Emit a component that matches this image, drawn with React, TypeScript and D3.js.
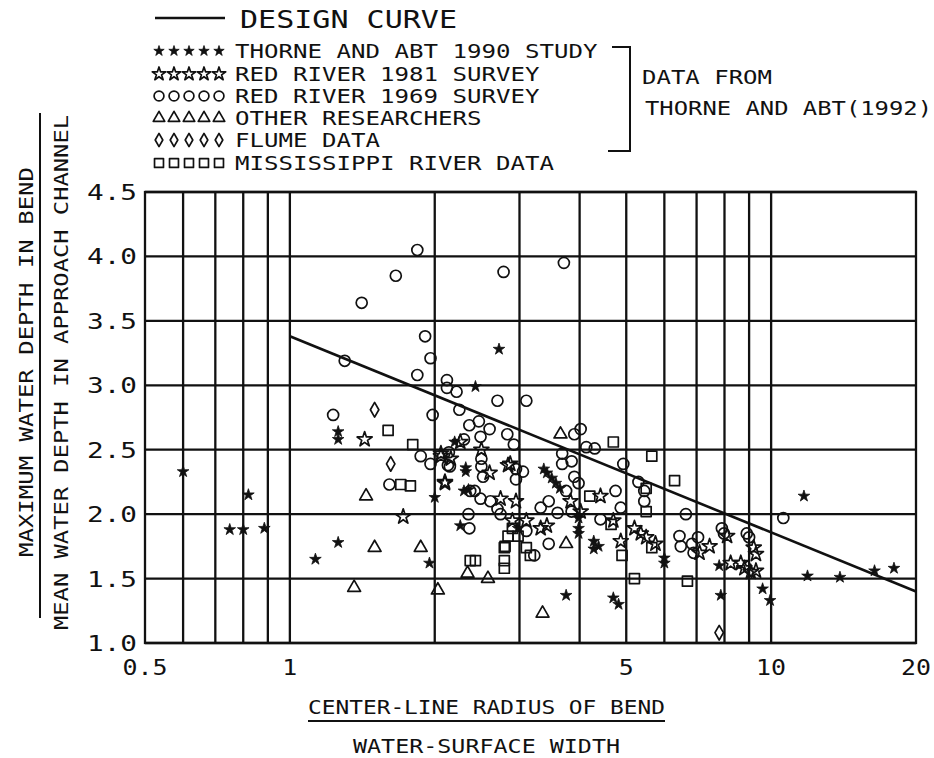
import React from 'react';
import * as d3 from 'd3';

// ---------- data ----------
const xDomain: [number, number] = [0.5, 20];
const yDomain: [number, number] = [1.0, 4.5];
const xGridValues = [0.6, 0.7, 0.8, 0.9, 1, 2, 3, 4, 5, 6, 7, 8, 9, 10];
const yTickValues = [1.0, 1.5, 2.0, 2.5, 3.0, 3.5, 4.0, 4.5];
const xTickValues = [0.5, 1, 5, 10, 20];
const designCurveX = [1, 20];
const designCurveY = [3.38, 1.4];

const thorneAbt1990: [number, number][] = [
  [0.6, 2.33], [0.82, 2.15], [0.75, 1.88], [0.8, 1.88], [0.885, 1.89], [1.13, 1.65], [1.26, 1.78],
  [1.26, 2.64], [1.26, 2.58], [1.95, 1.62], [2.0, 2.13], [2.72, 3.28], [2.43, 2.99], [3.75, 1.37],
  [4.7, 1.35], [4.82, 1.3], [11.7, 2.14], [11.9, 1.52], [13.9, 1.51], [16.4, 1.56], [18.0, 1.58],
  [9.6, 1.42], [9.95, 1.33], [7.86, 1.37], [7.8, 1.6], [6.0, 1.66], [6.0, 1.62],
  [2.32, 2.36], [2.32, 2.33], [2.3, 2.18], [2.26, 1.91], [2.2, 2.56], [2.35, 2.19], [3.37, 2.35],
  [3.42, 2.32], [3.5, 2.28], [3.57, 2.24], [3.64, 2.2], [3.98, 1.97], [3.98, 1.89], [3.98, 1.85],
  [4.28, 1.79], [4.38, 1.75], [4.28, 1.73], [2.98, 1.89],
];

const redRiver1981: [number, number][] = [
  [1.43, 2.58], [1.72, 1.98], [2.06, 2.47], [2.1, 2.24], [2.6, 2.32], [2.87, 2.39], [2.74, 2.12],
  [2.95, 2.1], [2.26, 2.56], [2.5, 2.5], [2.06, 2.45], [2.16, 2.43], [2.1, 2.25], [2.84, 2.38],
  [2.9, 1.95], [3.32, 1.89], [3.42, 1.91], [4.42, 2.14], [5.2, 1.89], [5.36, 1.85], [5.5, 1.82],
  [5.75, 1.77], [7.45, 1.75], [7.1, 1.7], [8.1, 1.83], [9.2, 1.74], [9.3, 1.69], [8.24, 1.62],
  [8.65, 1.62], [8.8, 1.58], [9.07, 1.55], [9.3, 1.56], [4.02, 2.02], [3.83, 2.1], [4.7, 1.95],
  [4.87, 1.79], [3.1, 1.95],
];

const redRiver1969: [number, number][] = [
  [1.66, 3.85], [1.41, 3.64], [1.3, 3.19], [1.23, 2.77], [1.84, 4.05], [2.78, 3.88], [3.71, 3.95],
  [1.91, 3.38], [1.96, 3.21], [1.84, 3.08], [2.12, 3.04], [2.12, 2.98], [2.22, 2.95], [2.7, 2.88],
  [3.1, 2.88], [1.98, 2.77], [2.25, 2.81], [2.36, 2.69], [2.47, 2.72], [2.6, 2.66], [2.83, 2.62],
  [2.92, 2.54], [2.3, 2.58], [2.49, 2.6], [1.87, 2.45], [1.96, 2.39], [2.15, 2.37], [2.5, 2.43],
  [2.5, 2.37], [2.52, 2.29], [2.95, 2.35], [3.05, 2.33], [2.95, 2.27], [2.37, 2.18], [2.49, 2.12],
  [2.61, 2.1], [2.74, 2.0], [2.35, 2.0], [2.36, 1.89], [3.45, 1.77], [3.22, 1.68], [1.61, 2.23],
  [2.14, 2.48], [2.13, 2.38], [2.42, 2.18], [3.9, 2.62], [4.02, 2.66], [3.68, 2.47], [3.85, 2.41],
  [3.68, 2.39], [3.9, 2.29], [3.98, 2.24], [3.75, 2.18], [4.13, 2.52], [4.3, 2.51], [4.93, 2.39],
  [4.75, 2.18], [4.87, 2.05], [5.3, 2.25], [5.45, 2.1], [5.45, 2.18], [3.32, 2.05], [3.45, 2.1],
  [3.6, 2.01], [3.85, 2.02], [2.7, 2.04], [3.1, 1.87], [4.42, 1.96], [6.65, 2.0], [10.6, 1.97],
  [6.45, 1.83], [6.49, 1.75], [6.85, 1.77], [7.05, 1.82], [6.9, 1.7], [7.9, 1.89], [7.98, 1.85],
  [8.9, 1.85], [9.0, 1.82],
];

const otherResearchers: [number, number][] = [
  [1.44, 2.14], [1.5, 1.74], [1.36, 1.43], [1.87, 1.74], [2.03, 1.41], [2.34, 1.54], [2.58, 1.5],
  [3.35, 1.23], [3.75, 1.77], [3.65, 2.62],
];

const flumeData: [number, number][] = [[1.5, 2.81], [1.62, 2.39], [7.8, 1.08]];

const mississippiRiver: [number, number][] = [
  [1.6, 2.65], [1.8, 2.54], [1.7, 2.23], [1.78, 2.22], [2.37, 1.64], [2.43, 1.64], [2.79, 1.64],
  [2.79, 1.58], [2.8, 1.75], [2.84, 1.83], [2.98, 1.83], [3.1, 1.74], [2.9, 1.89], [3.16, 1.68],
  [4.7, 2.56], [5.65, 2.45], [4.2, 2.14], [4.65, 1.92], [5.5, 2.2], [6.3, 2.26], [5.5, 2.02],
  [4.9, 1.68], [5.65, 1.74], [5.2, 1.5], [6.7, 1.48], [2.79, 1.74],
];

const legendLabels = [
  'THORNE AND ABT 1990 STUDY',
  'RED RIVER 1981 SURVEY',
  'RED RIVER 1969 SURVEY',
  'OTHER RESEARCHERS',
  'FLUME DATA',
  'MISSISSIPPI RIVER DATA',
];
const designLabel = 'DESIGN CURVE';
const bracketLines = ['DATA FROM', 'THORNE AND ABT(1992)'];
const xTitleTop = 'CENTER-LINE RADIUS OF BEND';
const xTitleBottom = 'WATER-SURFACE WIDTH';
const yTitleTop = 'MAXIMUM WATER DEPTH IN BEND';
const yTitleBottom = 'MEAN WATER DEPTH IN APPROACH CHANNEL';

// ---------- drawing ----------
const FONT = "'DejaVu Sans Mono', monospace";
const CHAR_W = 14.5;

type Kind = 'asterisk' | 'star' | 'circle' | 'triangle' | 'diamond' | 'square';
const makeSymbols = (scale: number): Record<Kind, string> => ({
  asterisk: d3.symbol(d3.symbolStar, 42 * scale)()!,
  star: d3.symbol(d3.symbolStar, 70 * scale)()!,
  circle: d3.symbol(d3.symbolCircle, 95 * scale)()!,
  triangle: d3.symbol(d3.symbolTriangle, 72 * scale)()!,
  diamond: d3.symbol(d3.symbolDiamond, 62 * scale)()!,
  square: d3.symbol(d3.symbolSquare, 100 * scale)()!,
});
const plotSymbols = makeSymbols(1);
const legendSymbols = makeSymbols(0.8);
const seriesKinds: Kind[] = ['asterisk', 'star', 'circle', 'triangle', 'diamond', 'square'];
const seriesData = [thorneAbt1990, redRiver1981, redRiver1969, otherResearchers, flumeData, mississippiRiver];

function Marker({ kind, x, y, legend = false }: { kind: Kind; x: number; y: number; legend?: boolean }) {
  const filled = kind === 'asterisk';
  const set = legend ? legendSymbols : plotSymbols;
  return (
    <path
      d={set[kind]}
      transform={`translate(${x},${y})`}
      fill={filled ? '#111' : 'none'}
      stroke="#111"
      strokeWidth={filled ? 0.8 : 1.7}
      strokeLinejoin="round"
    />
  );
}

function Txt({ x, y, text, size, len, anchor = 'start', transform }: any) {
  return (
    <text
      x={x}
      y={y}
      fontFamily={FONT}
      fontSize={size}
      textAnchor={anchor}
      textLength={len}
      lengthAdjust="spacingAndGlyphs"
      transform={transform}
      fill="#111"
    >
      {text}
    </text>
  );
}

export default function App() {
  const x = d3.scaleLog().domain(xDomain).range([145, 916]);
  const y = d3.scaleLinear().domain(yDomain).range([643, 192]);
  const line = d3
    .line<number>()
    .x((_, i) => x(designCurveX[i]))
    .y((_, i) => y(designCurveY[i]));
  const designPath = line(designCurveX)!;

  const legendRowY = [51, 74, 96, 118, 140, 163];
  const gridW = 2.3;

  return (
    <svg
      width={934}
      height={758}
      style={{ position: 'absolute', left: 0, top: 0, background: '#fff' }}
    >
      <rect x={0} y={0} width={934} height={758} fill="#fff" />
      {/* legend */}
      <line x1={155} x2={225} y1={18} y2={18} stroke="#111" strokeWidth={2.4} />
      <Txt x={240} y={28} text={designLabel} size={25} len={217} />
      {legendLabels.map((lab, i) => (
        <g key={lab}>
          {[0, 1, 2, 3, 4].map((k) => (
            <Marker key={k} kind={seriesKinds[i]} x={159 + k * 15} y={legendRowY[i]} legend />
          ))}
          <Txt x={235} y={legendRowY[i] + 7} text={lab} size={19.5} len={lab.length * CHAR_W} />
        </g>
      ))}
      <path d="M612,47 H630 V151 H608" fill="none" stroke="#111" strokeWidth={2} />
      <Txt x={642} y={84} text={bracketLines[0]} size={20} len={130} />
      <Txt x={645} y={115} text={bracketLines[1]} size={20} len={287} />

      {/* grid */}
      {yTickValues.map((v) => (
        <line key={'h' + v} x1={145} x2={916} y1={y(v)} y2={y(v)} stroke="#111" strokeWidth={gridW} />
      ))}
      {xGridValues.map((v) => (
        <line key={'v' + v} x1={x(v)} x2={x(v)} y1={192} y2={643} stroke="#111" strokeWidth={gridW} />
      ))}
      <rect x={145} y={192} width={771} height={451} fill="none" stroke="#111" strokeWidth={gridW} />

      {/* y tick labels */}
      {yTickValues.map((v) => (
        <Txt key={'yl' + v} x={137} y={y(v) + 8} text={v.toFixed(1)} size={21} len={50} anchor="end" />
      ))}
      {/* x tick labels */}
      {xTickValues.map((v) => {
        const s = String(v);
        return <Txt key={'xl' + v} x={x(v)} y={675} text={s} size={21} len={s.length * 15} anchor="middle" />;
      })}

      {/* data */}
      {seriesData.map((arr, si) =>
        arr.map((d, i) => <Marker key={si + '-' + i} kind={seriesKinds[si]} x={x(d[0])} y={y(d[1])} />)
      )}

      {/* design curve */}
      <path d={designPath} fill="none" stroke="#111" strokeWidth={2.6} />

      {/* x title */}
      <Txt x={308} y={714} text={xTitleTop} size={20} len={357} />
      <line x1={308} x2={665} y1={721} y2={721} stroke="#111" strokeWidth={2} />
      <Txt x={353} y={753} text={xTitleBottom} size={20} len={267} />

      {/* y title */}
      <Txt x={0} y={0} text={yTitleTop} size={20} len={390} transform="translate(33,557) rotate(-90)" />
      <line x1={40} x2={40} y1={113} y2={618} stroke="#111" strokeWidth={2} />
      <Txt x={0} y={0} text={yTitleBottom} size={20} len={515} transform="translate(68,630) rotate(-90)" />
    </svg>
  );
}
